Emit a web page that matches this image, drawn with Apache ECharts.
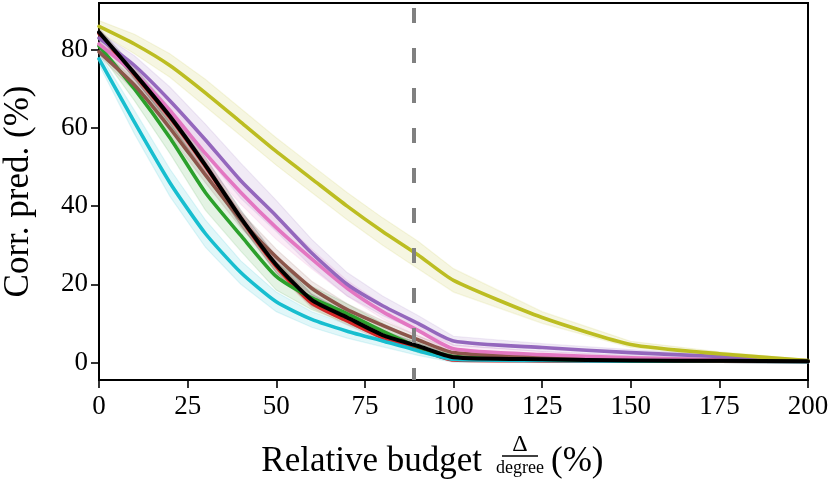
<!DOCTYPE html>
<html>
<head>
<meta charset="utf-8">
<script src="https://cdn.jsdelivr.net/npm/echarts@6/dist/echarts.min.js"></script>
<style>
html,body{margin:0;padding:0;background:#fff;}
#chart{width:831px;height:488px;}
</style>
</head>
<body>
<div id="chart"></div>
<script>
// Relative budget (%) sample positions
var budget = [0, 10, 20, 30, 40, 50, 60, 70, 80, 90, 100, 125, 150, 175, 200];
var xTicks = [0, 25, 50, 75, 100, 125, 150, 175, 200];
var yTicks = [0, 20, 40, 60, 80];
var threshold = 88.9;

// mean curves (Corr. pred. %)
var olive  = [86, 81.5, 76, 69, 61.5, 54, 47, 40, 33.5, 27.5, 21, 11.5, 4.6, 2.2, 0.5];
var purple = [83, 76, 67, 57, 46.5, 37.5, 28, 20, 14.5, 10, 5.5, 3.8, 2.5, 1.5, 0.4];
var pink   = [81.5, 74, 64.5, 53.5, 43.5, 34.5, 26.5, 19, 13, 8.2, 3.5, 2, 1.2, 0.7, 0.3];
var brown  = [79.5, 71, 60, 48, 36.5, 27, 19, 13.5, 9.5, 5.8, 2.5, 1.3, 0.7, 0.4, 0.3];
var black  = [84.5, 74, 63, 50.5, 37, 25, 16, 11.5, 7, 4.2, 1.3, 0.8, 0.5, 0.4, 0.3];
var red    = [84.2, 73.7, 62.7, 50.2, 36.7, 24.5, 15.2, 10.6, 6.3, 3.5, 0.6, 0.4, 0.3, 0.3, 0.2];
var green  = [81, 70, 57.5, 43.5, 32.5, 22, 16.5, 12.5, 8, 4, 1.5, 0.8, 0.5, 0.4, 0.3];
var cyan   = [77.7, 61.5, 46, 33, 23, 15.5, 11, 8, 5.5, 3, 0.8, 0.5, 0.3, 0.3, 0.2];

// half-widths of the shaded spread bands
var oliveSpread  = [1.5, 2.5, 3, 3.5, 3.5, 3.5, 3.5, 3.5, 3.5, 3.5, 3, 1.5, 0.8, 0.5, 0.3];
var purpleSpread = [1.5, 2.5, 3.5, 4, 4.5, 4, 3.5, 3, 2.5, 2, 1.2, 1, 0.8, 0.5, 0.3];
var pinkSpread   = [1, 2, 2.5, 3, 3, 3, 2.5, 2, 1.8, 1.5, 1, 0.8, 0.5, 0.3, 0.2];
var brownSpread  = [1, 1.5, 2, 2, 2, 2, 1.8, 1.5, 1.2, 1, 0.8, 0.5, 0.3, 0.2, 0.2];
var blackSpread  = [1, 1.5, 2, 2, 2, 2, 1.5, 1.2, 1, 0.8, 0.5, 0.3, 0.2, 0.2, 0.2];
var redSpread    = [1, 1, 1.5, 1.5, 1.5, 1.5, 1.2, 1, 0.8, 0.6, 0.3, 0.2, 0.2, 0.2, 0.1];
var greenSpread  = [1.5, 3, 4, 4.5, 4, 3.5, 3, 2.5, 2, 1.5, 1, 0.5, 0.3, 0.2, 0.2];
var cyanSpread   = [1.5, 3, 3.5, 3.5, 3, 2.5, 2, 1.8, 1.5, 1.2, 0.8, 0.5, 0.3, 0.2, 0.2];

var curves = [
  {name: 'red',    color: '#d62728', rgb: '214,39,40',   mean: red,    spread: redSpread},
  {name: 'cyan',   color: '#17becf', rgb: '23,190,207',  mean: cyan,   spread: cyanSpread},
  {name: 'green',  color: '#2ca02c', rgb: '44,160,44',   mean: green,  spread: greenSpread},
  {name: 'brown',  color: '#8c564b', rgb: '140,86,75',   mean: brown,  spread: brownSpread},
  {name: 'pink',   color: '#e377c2', rgb: '227,119,194', mean: pink,   spread: pinkSpread},
  {name: 'purple', color: '#9467bd', rgb: '148,103,189', mean: purple, spread: purpleSpread},
  {name: 'olive',  color: '#bcbd22', rgb: '188,189,34',  mean: olive,  spread: oliveSpread},
  {name: 'black',  color: '#000000', rgb: '0,0,0',       mean: black,  spread: blackSpread}
];

var FONT = '"Liberation Serif", "Times New Roman", serif';
var series = [];

curves.forEach(function (c) {
  series.push({
    type: 'custom',
    name: c.name + ' band',
    silent: true,
    z: 1,
    data: [[budget[0], c.mean[0]]],
    renderItem: function (params, api) {
      var up = [], lo = [];
      for (var i = 0; i < budget.length; i++) {
        up.push(api.coord([budget[i], c.mean[i] + c.spread[i]]));
        lo.push(api.coord([budget[i], c.mean[i] - c.spread[i]]));
      }
      var pts = up.concat(lo.reverse());
      return {
        type: 'polygon',
        shape: {points: pts},
        style: {fill: 'rgba(' + c.rgb + ',0.13)', stroke: 'rgba(' + c.rgb + ',0.12)', lineWidth: 1.2}
      };
    }
  });
});

curves.forEach(function (c) {
  var s = {
    type: 'line',
    name: c.name,
    z: 3,
    showSymbol: false,
    symbol: 'none',
    smooth: 0.2,
    data: budget.map(function (b, i) { return [b, c.mean[i]]; }),
    lineStyle: {color: c.color, width: c.name === 'black' ? 4 : 3.6, join: 'round', cap: 'round'},
    itemStyle: {color: c.color}
  };
  if (c.name === 'black') {
    s.markLine = {
      silent: true,
      symbol: 'none',
      label: {show: false},
      lineStyle: {color: '#808080', width: 4, type: [15, 25], dashOffset: 3},
      data: [{xAxis: threshold}]
    };
  }
  series.push(s);
});

var chart = echarts.init(document.getElementById('chart'), null, {renderer: 'canvas'});
chart.setOption({
  animation: false,
  backgroundColor: '#ffffff',
  grid: {left: 99, right: 23, top: 3, bottom: 108, show: true, borderColor: '#000', borderWidth: 2, containLabel: false, outerBoundsMode: 'none'},
  xAxis: {
    type: 'value', min: 0, max: 200, interval: 25,
    axisLine: {show: true, onZero: false, lineStyle: {color: '#000', width: 2}},
    axisTick: {show: true, length: 8, lineStyle: {color: '#000', width: 1.6}},
    axisLabel: {color: '#000', fontFamily: FONT, fontSize: 27, margin: 13},
    splitLine: {show: false}
  },
  yAxis: {
    type: 'value', min: -4.5, max: 92,
    name: 'Corr. pred. (%)', nameLocation: 'middle', nameGap: 63,
    nameTextStyle: {color: '#000', fontFamily: FONT, fontSize: 35},
    axisLine: {show: true, onZero: false, lineStyle: {color: '#000', width: 2}},
    axisTick: {show: true, length: 8, customValues: yTicks, lineStyle: {color: '#000', width: 1.6}},
    axisLabel: {color: '#000', fontFamily: FONT, fontSize: 27, margin: 11, customValues: yTicks},
    splitLine: {show: false}
  },
  graphic: [
    {type: 'text', x: 482, y: 462, style: {text: 'Relative budget', font: '35px ' + FONT, fill: '#000', align: 'right', verticalAlign: 'middle'}},
    {type: 'text', x: 520, y: 445, style: {text: 'Δ', font: '24px ' + FONT, fill: '#000', align: 'center', verticalAlign: 'middle'}},
    {type: 'line', shape: {x1: 502, y1: 456, x2: 538, y2: 456}, style: {stroke: '#000', lineWidth: 1.3}},
    {type: 'text', x: 520, y: 468, style: {text: 'degree', font: '18px ' + FONT, fill: '#000', align: 'center', verticalAlign: 'middle'}},
    {type: 'text', x: 551, y: 462, style: {text: '(%)', font: '35px ' + FONT, fill: '#000', align: 'left', verticalAlign: 'middle'}}
  ],
  series: series
});
</script>
</body>
</html>
